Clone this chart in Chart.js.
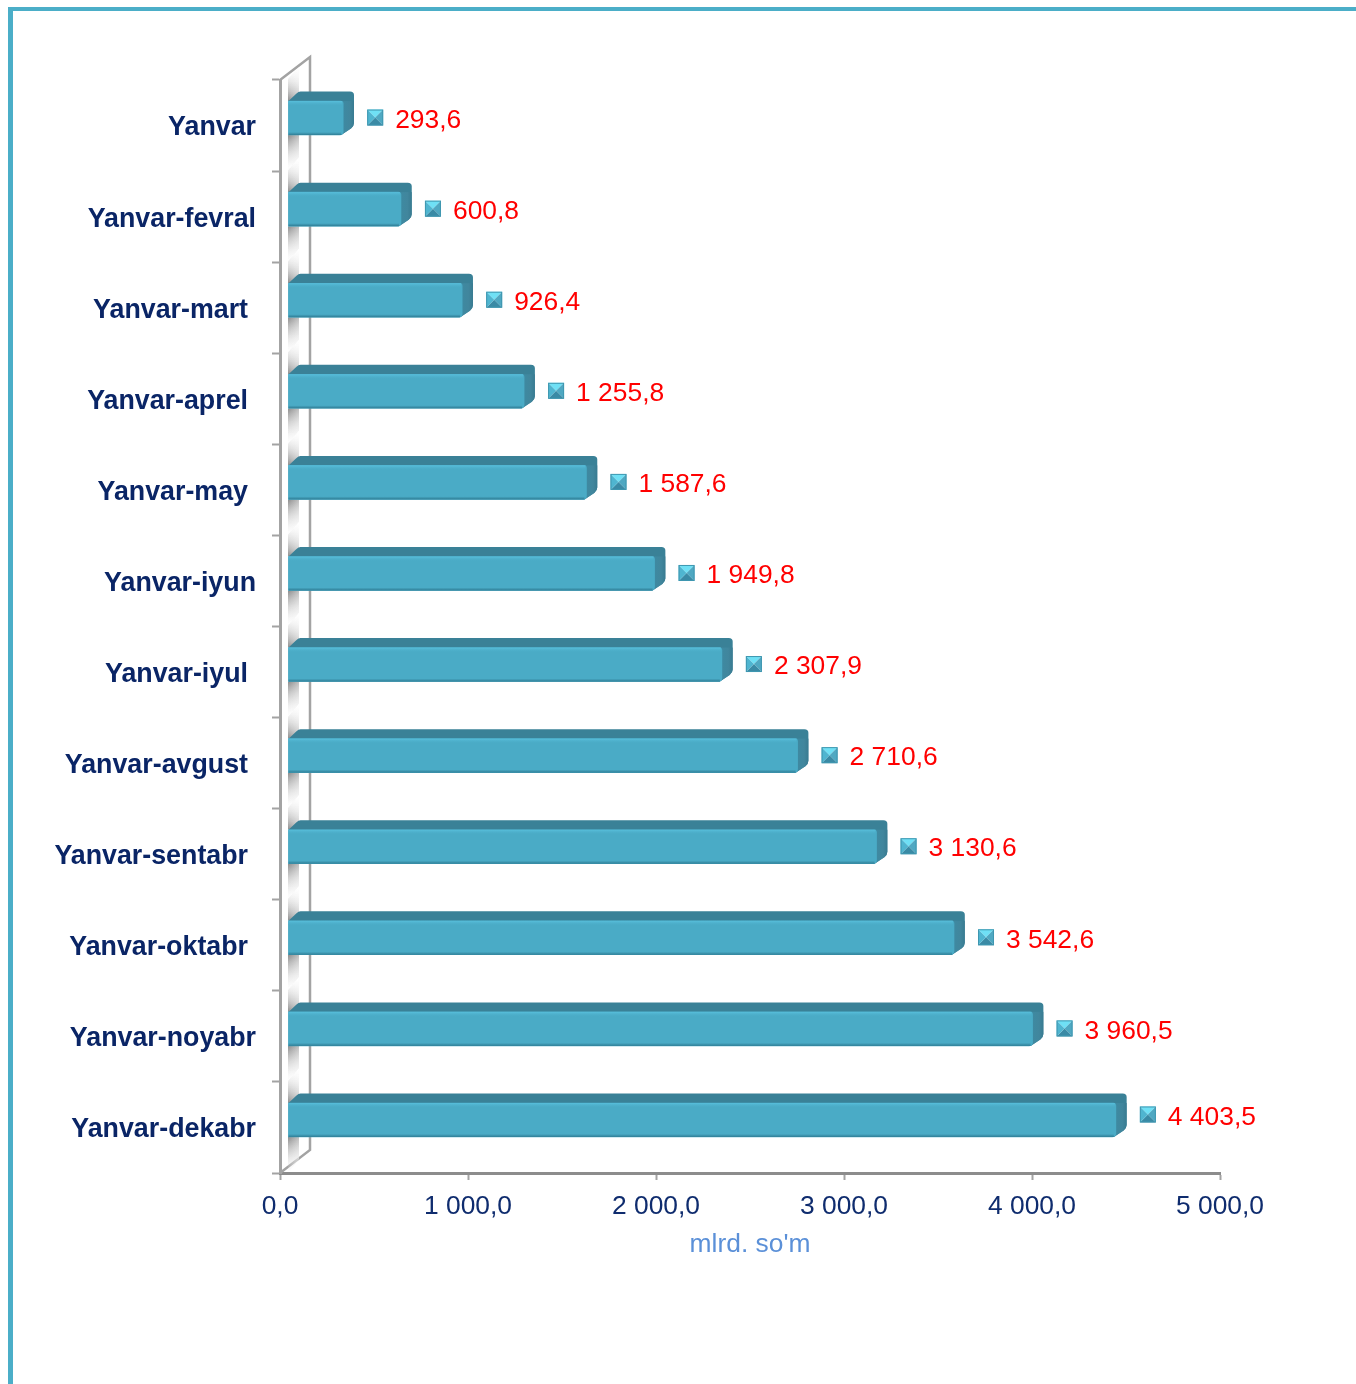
<!DOCTYPE html>
<html>
<head>
<meta charset="utf-8">
<script src="https://cdn.jsdelivr.net/npm/chart.js@4"></script>
<style>
  html, body { margin: 0; padding: 0; background: #fff; }
  #frame { position: absolute; left: 8px; top: 7px; width: 1348px; height: 1377px; box-sizing: border-box;
           border-left: 5px solid #4baec8; border-top: 4px solid #4baec8; }
  canvas { position: absolute; left: 0; top: 0; }
</style>
</head>
<body>
<div id="frame"></div>
<canvas id="chart" width="1356" height="1384"></canvas>
<script>
const categories = ['Yanvar', 'Yanvar-fevral', 'Yanvar-mart', 'Yanvar-aprel', 'Yanvar-may', 'Yanvar-iyun',
  'Yanvar-iyul', 'Yanvar-avgust', 'Yanvar-sentabr', 'Yanvar-oktabr', 'Yanvar-noyabr', 'Yanvar-dekabr'];
const values = [293.6, 600.8, 926.4, 1255.8, 1587.6, 1949.8, 2307.9, 2710.6, 3130.6, 3542.6, 3960.5, 4403.5];
const tickValues = [0, 1000, 2000, 3000, 4000, 5000];
const axisTitle = "mlrd. so'm";

const FONT = '"Liberation Sans", Arial, sans-serif';
// category labels in the original are placed by hand, these sit 8px further left
const labelShift = [0, 0, 8, 8, 8, 0, 8, 8, 8, 8, 0, 0];

function fmt(v) {
  const parts = v.toFixed(1).split('.');
  return parts[0].replace(/\B(?=(\d{3})+$)/g, ' ') + ',' + parts[1];
}

// the pseudo 3D look: bars are shifted into the box, DEPTH is the bar's own depth
const SHIFT_X = 8, SHIFT_Y = -7.5, DEPTH = 10;
const WALL_X = 30, WALL_Y = 23;

const threeD = {
  id: 'threeD',
  beforeDatasetsDraw(chart) {
    const { ctx, chartArea: a } = chart;
    ctx.save();
    // side wall of the box
    ctx.strokeStyle = '#a3a3a3';
    ctx.lineWidth = 2.5;
    ctx.beginPath();
    ctx.moveTo(a.left, a.top);
    ctx.lineTo(a.left + WALL_X, a.top - WALL_Y);
    ctx.lineTo(a.left + WALL_X, a.bottom - WALL_Y);
    ctx.lineTo(a.left, a.bottom);
    ctx.stroke();
    ctx.restore();
    // soft shadows the bars throw on the wall
    chart.getDatasetMeta(0).data.forEach((bar) => {
      const y = bar.y + SHIFT_Y, h = bar.height / 2;
      shadow(ctx, y + h, y + h + 36, true);
      shadow(ctx, y - h - 34, y - h, false);
    });
  },
  beforeDatasetDraw(chart, args) {
    const { ctx } = chart;
    args.meta.data.forEach((bar) => drawBack(ctx, bar));
    ctx.save();
    ctx.translate(SHIFT_X, SHIFT_Y);
  },
  afterDatasetDraw(chart, args) {
    const { ctx } = chart;
    ctx.restore();
    const bars = args.meta.data;
    bars.forEach((bar) => drawFront(ctx, bar));
    bars.forEach((bar, i) => {
      // the last label was moved up a little in the original
      const lift = i === bars.length - 1 ? -5 : 0;
      const my = bar.y - 8 + lift;
      drawMarker(ctx, bar.x + 40, my);
      ctx.save();
      ctx.fillStyle = '#ff0000';
      ctx.font = '26.4px ' + FONT;
      ctx.textAlign = 'left';
      ctx.textBaseline = 'middle';
      ctx.fillText(fmt(values[i]), bar.x + 60, my + 3);
      ctx.restore();
    });
    // category labels
    const yScale = chart.scales.y;
    ctx.save();
    ctx.fillStyle = '#0a2566';
    ctx.font = 'bold 26.8px ' + FONT;
    ctx.textAlign = 'right';
    ctx.textBaseline = 'middle';
    categories.forEach((c, i) => {
      ctx.fillText(c, chart.chartArea.left - 24 - labelShift[i], yScale.getPixelForValue(i) + 2.5);
    });
    ctx.restore();
  }
};

function shadow(ctx, y0, y1, below) {
  const left = 288, right = 299;
  ctx.save();
  ctx.beginPath();
  if (below) {
    ctx.moveTo(left, y0); ctx.lineTo(right, y0); ctx.lineTo(right, y1 - 14); ctx.lineTo(left, y1);
  } else {
    ctx.moveTo(left, y0 + 12); ctx.lineTo(right, y0); ctx.lineTo(right, y1); ctx.lineTo(left, y1);
  }
  ctx.closePath();
  ctx.clip();
  const g = ctx.createLinearGradient(0, below ? y0 : y1, 0, below ? y1 : y0);
  g.addColorStop(0, 'rgba(140,140,140,1)');
  g.addColorStop(1, 'rgba(235,235,235,0)');
  ctx.fillStyle = g;
  ctx.fillRect(left, y0, right - left, y1 - y0);
  const w = ctx.createLinearGradient(left, 0, right, 0);
  w.addColorStop(0, 'rgba(255,255,255,0)');
  w.addColorStop(1, 'rgba(255,255,255,0.45)');
  ctx.fillStyle = w;
  ctx.fillRect(left, y0, right - left, y1 - y0);
  ctx.restore();
}

// top and right faces, painted behind the bar
function drawBack(ctx, bar) {
  const x0 = bar.base + SHIFT_X, x1 = bar.x + SHIFT_X;
  const xr = x1 + DEPTH + 0.8;
  const top = bar.y + SHIFT_Y - bar.height / 2, bottom = bar.y + SHIFT_Y + bar.height / 2;
  ctx.save();
  ctx.beginPath();
  ctx.moveTo(x0, top);
  ctx.lineTo(x0 + DEPTH - 2, top - DEPTH + 2.5);
  ctx.quadraticCurveTo(x0 + DEPTH, top - DEPTH + 0.5, x0 + DEPTH + 2, top - DEPTH + 0.5);
  ctx.lineTo(xr - 4, top - DEPTH + 0.5);
  ctx.quadraticCurveTo(xr, top - DEPTH + 0.5, xr, top - DEPTH + 4);
  ctx.lineTo(xr, bottom - DEPTH - 2);
  ctx.quadraticCurveTo(xr, bottom - DEPTH + 1, xr - 3, bottom - DEPTH + 3.5);
  ctx.lineTo(x1 - 2, bottom);
  ctx.lineTo(x0, bottom);
  ctx.closePath();
  ctx.fillStyle = '#3a8197';
  ctx.fill();
  // side face a touch lighter in the middle
  ctx.clip();
  const g = ctx.createLinearGradient(x1, 0, xr, 0);
  g.addColorStop(0, 'rgba(62,138,162,0.95)');
  g.addColorStop(0.6, 'rgba(66,135,158,0.85)');
  g.addColorStop(1, 'rgba(56,122,144,0.9)');
  ctx.fillStyle = g;
  ctx.fillRect(x1 - 3, top, DEPTH + 5, bottom - top);
  ctx.restore();
}

// highlight and shade along the edges of the face drawn by the library
function drawFront(ctx, bar) {
  const x0 = bar.base + SHIFT_X, x1 = bar.x + SHIFT_X;
  const top = bar.y + SHIFT_Y - bar.height / 2, bottom = bar.y + SHIFT_Y + bar.height / 2;
  ctx.save();
  const g = ctx.createLinearGradient(0, top, 0, top + 5);
  g.addColorStop(0, '#58bfdc');
  g.addColorStop(1, 'rgba(74,171,198,0)');
  ctx.fillStyle = g;
  ctx.fillRect(x0, top, x1 - x0 - 1, 5);
  const s = ctx.createLinearGradient(0, bottom - 3, 0, bottom);
  s.addColorStop(0, 'rgba(47,125,149,0)');
  s.addColorStop(1, '#2f7d95');
  ctx.fillStyle = s;
  ctx.fillRect(x0, bottom - 3, x1 - x0 - 2, 3);
  ctx.restore();
}

function drawMarker(ctx, cx, cy) {
  const r = 8;
  const tri = (color, ax, ay, bx, by) => {
    ctx.fillStyle = color;
    ctx.beginPath();
    ctx.moveTo(cx + ax, cy + ay);
    ctx.lineTo(cx + bx, cy + by);
    ctx.lineTo(cx, cy);
    ctx.closePath();
    ctx.fill();
  };
  ctx.save();
  tri('#6fe0f5', -r, -r, r, -r);
  tri('#4fa8c2', r, -r, r, r);
  tri('#3a8aa5', -r, r, r, r);
  tri('#4fb5d0', -r, -r, -r, r);
  ctx.strokeStyle = '#3f97b0';
  ctx.lineWidth = 1;
  ctx.strokeRect(cx - r + 0.5, cy - r + 0.5, 2 * r - 1, 2 * r - 1);
  ctx.restore();
}

new Chart(document.getElementById('chart'), {
  type: 'bar',
  data: {
    labels: categories,
    datasets: [{
      data: values,
      backgroundColor: '#4aabc6',
      borderWidth: 0,
      borderRadius: { topRight: 3, bottomRight: 4 },
      barThickness: 34,
      clip: false
    }]
  },
  plugins: [threeD],
  options: {
    indexAxis: 'y',
    responsive: false,
    animation: false,
    layout: { padding: { top: 80, right: 136, left: 0, bottom: 123 } },
    plugins: { legend: { display: false }, tooltip: { enabled: false } },
    scales: {
      x: {
        min: 0,
        max: 5000,
        afterBuildTicks(scale) { scale.ticks = tickValues.map((v) => ({ value: v })); },
        afterFit(scale) { scale.height = 88; },
        grid: { drawOnChartArea: false, drawTicks: true, tickLength: 7, tickWidth: 2, color: '#a3a3a3' },
        border: { color: '#8c8c8c', width: 3 },
        ticks: {
          color: '#0f2c6e',
          font: { family: FONT, size: 26.4 },
          padding: 11,
          maxRotation: 0,
          autoSkip: false,
          callback: (v) => fmt(v)
        },
        title: {
          display: true,
          text: axisTitle,
          color: '#5b90d8',
          font: { family: FONT, size: 26.4 },
          padding: { top: 4, bottom: 0 }
        }
      },
      y: {
        afterFit(scale) { scale.width = 280; },
        grid: { drawOnChartArea: false, drawTicks: true, tickLength: 8, tickWidth: 2, color: '#a3a3a3' },
        border: { color: '#a3a3a3', width: 3 },
        ticks: { display: false }
      }
    }
  }
});
</script>
</body>
</html>
